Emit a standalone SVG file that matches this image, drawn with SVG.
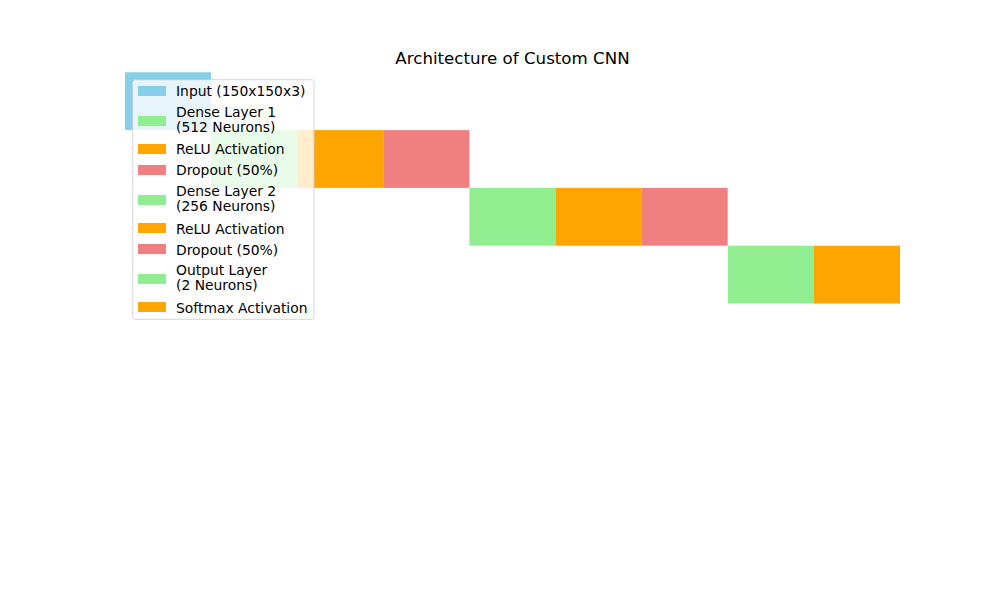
<svg xmlns="http://www.w3.org/2000/svg" width="1000" height="600" viewBox="0 0 1000 600">
<style>
text{font-family:"DejaVu Sans",sans-serif;font-size:13.89px;fill:#000}
.title{font-size:16.67px}
.in{fill:#87CEEB}.de{fill:#90EE90}.re{fill:#FFA500}.dr{fill:#F08080}
</style>
<rect width="1000" height="600" fill="#fff"/>
<text class="title" x="512.5" y="64" text-anchor="middle">Architecture of Custom CNN</text>
<g id="layers">
<g id="input"><rect class="in" x="125" y="72.3" width="86.1" height="57.8"/></g>
<g id="dense1"><rect class="de" x="211.1" y="130.1" width="86.1" height="57.8"/></g>
<g id="relu1"><rect class="re" x="297.2" y="130.1" width="86.1" height="57.8"/></g>
<g id="dropout1"><rect class="dr" x="383.3" y="130.1" width="86.1" height="57.8"/></g>
<g id="dense2"><rect class="de" x="469.4" y="187.9" width="86.1" height="57.8"/></g>
<g id="relu2"><rect class="re" x="555.5" y="187.9" width="86.1" height="57.8"/></g>
<g id="dropout2"><rect class="dr" x="641.6" y="187.9" width="86.1" height="57.8"/></g>
<g id="output"><rect class="de" x="727.8" y="245.7" width="86.1" height="57.8"/></g>
<g id="softmax"><rect class="re" x="813.9" y="245.7" width="86.1" height="57.8"/></g>
</g>
<g id="connectors"></g>
<g id="legend">
<rect x="132.7" y="79.7" width="181.3" height="239.6" rx="2.5" fill="#fff" fill-opacity="0.8" stroke="#ccc" stroke-opacity="0.8" stroke-width="1"/>
<rect class="in" x="138" y="86" width="28" height="10"/><text x="176" y="96">Input (150x150x3)</text>
<rect class="de" x="138" y="116" width="28" height="10"/><text x="176" y="116.5">Dense Layer 1</text><text x="176" y="132">(512 Neurons)</text>
<rect class="re" x="138" y="144" width="28" height="10"/><text x="176" y="154">ReLU Activation</text>
<rect class="dr" x="138" y="165" width="28" height="10"/><text x="176" y="175">Dropout (50%)</text>
<rect class="de" x="138" y="195" width="28" height="10"/><text x="176" y="195.5">Dense Layer 2</text><text x="176" y="211">(256 Neurons)</text>
<rect class="re" x="138" y="223" width="28" height="10"/><text x="176" y="233.5">ReLU Activation</text>
<rect class="dr" x="138" y="244" width="28" height="10"/><text x="176" y="254.5">Dropout (50%)</text>
<rect class="de" x="138" y="274" width="28" height="10"/><text x="176" y="274.5">Output Layer</text><text x="176" y="290">(2 Neurons)</text>
<rect class="re" x="138" y="302" width="28" height="10"/><text x="176" y="312.5">Softmax Activation</text>
</g>
</svg>
